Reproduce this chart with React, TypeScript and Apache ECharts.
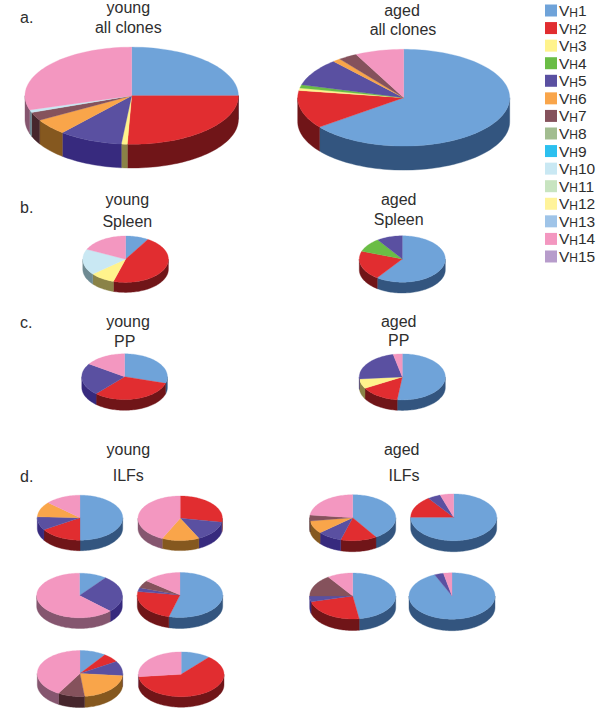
import React, { useEffect, useRef } from "react";
import * as echarts from "echarts";

const vhNames = ["VH1","VH2","VH3","VH4","VH5","VH6","VH7","VH8","VH9","VH10","VH11","VH12","VH13","VH14","VH15"];
const topColors = ["#6fa3d9","#e12d30","#fff38c","#6abd45","#5a50a1","#f9a54a","#85525c","#a2bd90","#2cc0ef","#c9e8f3","#c8e4c0","#fff39a","#9fc4e8","#f397c0","#b79ccb"];
const sideColors = ["#33557f","#701518","#8a8347","#3a7028","#372a7e","#85581f","#46262c","#5f7050","#1a6f8a","#6e8a92","#708a68","#8a8347","#557090","#85566f","#6a5580"];

// share of each VH family, in VH1..VH15 order
const youngAll =     [25, 25.6, 0.9, 0, 9.7, 5.3, 2.8, 0, 0, 0.9, 0, 0, 0, 29.7, 0];
const agedAll =      [64.6, 12.8, 0.8, 1.1, 9.2, 1.2, 2.9, 0, 0, 0, 0, 0, 0, 7.4, 0];
const youngSpleen =  [8.7, 45.9, 0, 0, 0, 0, 0, 0, 0, 0, 0, 9.3, 0, 18, 0];
const youngSpleen10 = 18.1;
const agedSpleen =   [59.9, 20.5, 0, 10, 9.6, 0, 0, 0, 0, 0, 0, 0, 0, 0, 0];
const youngPP =      [29.7, 31.9, 0, 0, 22.8, 0, 0, 0, 0, 0, 0, 0, 0, 15.6, 0];
const agedPP =       [51.9, 14.8, 6.9, 0, 23, 0, 0, 0, 0, 0, 0, 0, 0, 3.4, 0];
const youngIlf1 =    [50, 16, 0, 0, 9.6, 11, 0, 0, 0, 0, 0, 0, 0, 13.4, 0];
const youngIlf2 =    [0, 27.8, 0, 0, 14.9, 14.3, 0, 0, 0, 0, 0, 0, 0, 43, 0];
const youngIlf3 =    [10.4, 0, 0, 0, 26.9, 0, 0, 0, 0, 0, 0, 0, 0, 62.7, 0];
const youngIlf4 =    [54.2, 23.2, 0, 0, 2.9, 0, 5.5, 0, 0, 0, 0, 0, 0, 14.2, 0];
const youngIlf5 =    [9.9, 6.4, 0, 0, 10.3, 21.7, 10.1, 0, 0, 0, 0, 0, 0, 41.6, 0];
const youngIlf6 =    [11.2, 62.1, 0, 0, 0, 0, 0, 0, 0, 0, 0, 0, 0, 26.7, 0];
const agedIlf1 =     [40.9, 13.6, 0, 0, 9.2, 9, 4.1, 0, 0, 0, 0, 0, 0, 23.2, 0];
const agedIlf2 =     [75, 15, 0, 0, 4.9, 0, 0, 0, 0, 0, 0, 0, 0, 5.1, 0];
const agedIlf3 =     [47.6, 23.4, 0, 0, 4, 0, 15.4, 0, 0, 0, 0, 0, 0, 9.6, 0];
const agedIlf4 =     [93.4, 0, 0, 0, 3.4, 0, 0, 0, 0, 0, 0, 0, 0, 3.2, 0];

// the light slice of young spleen belongs to VH10; its yellow one to VH3
youngSpleen[9] = youngSpleen10;
youngSpleen[2] = youngSpleen[11];
youngSpleen[11] = 0;

const pieValues = [
  youngAll, agedAll, youngSpleen, agedSpleen, youngPP, agedPP,
  youngIlf1, youngIlf2, youngIlf3, youngIlf4, youngIlf5, youngIlf6,
  agedIlf1, agedIlf2, agedIlf3, agedIlf4,
];

// layout of each pie: cx, cy, rx, ry, depth
const pieLayouts = [
  [131.7, 95.7, 106.7, 48.6, 23.7],
  [403.7, 97.7, 106, 48.4, 24],
  [125.6, 259.2, 42.8, 23.2, 10],
  [402.3, 259, 43, 23.2, 10.8],
  [124.6, 376.7, 42.8, 22.9, 10.7],
  [402.3, 376.9, 43, 23, 10.5],
  [80, 517.7, 42.7, 22.5, 10.5],
  [180.2, 518.3, 42.2, 22.3, 10],
  [79.5, 595.5, 42.8, 22.3, 10.7],
  [180, 595, 42.7, 22.5, 11],
  [80, 673.5, 42.7, 23, 11],
  [181.2, 674.3, 42.8, 22.4, 10.5],
  [352.7, 517.7, 43, 23, 11],
  [453.7, 517.3, 43, 23.4, 11],
  [352.7, 596, 43, 23, 11.5],
  [452, 596, 43, 23.2, 11.5],
];

// [text, centre x, baseline y]
const pieTitles: [string, number, number][] = [
  ["young", 128.3, 13.3], ["all clones", 128.3, 33.3],
  ["aged", 402, 16], ["all clones", 403, 35],
  ["young", 127.3, 205], ["Spleen", 127.3, 226.7],
  ["aged", 398.7, 204.7], ["Spleen", 398.7, 225],
  ["young", 128, 327.3], ["PP", 124.7, 347.3],
  ["aged", 398.7, 326.7], ["PP", 398.7, 345.7],
  ["young", 128.3, 455], ["ILFs", 128.3, 481.3],
  ["aged", 401.7, 455], ["ILFs", 404, 481.3],
];
const panelLetters: [string, number][] = [["a.", 23.3], ["b.", 213.3], ["c.", 328.3], ["d.", 481.7]];

function arc(p: number[], a0: number, a1: number, dy: number) {
  const pts: number[][] = [];
  const n = Math.max(2, Math.ceil((a1 - a0) / 2));
  for (let i = 0; i <= n; i++) {
    const t = ((a0 + ((a1 - a0) * i) / n) * Math.PI) / 180;
    pts.push([p[0] + p[2] * Math.sin(t), p[1] - p[3] * Math.cos(t) + dy]);
  }
  return pts;
}

function sliceRows(vh: number) {
  const rows: number[][] = [];
  pieValues.forEach((vals, pi) => {
    const total = vals.reduce((s, v) => s + v, 0);
    let before = 0;
    for (let k = 0; k < vh; k++) before += vals[k];
    if (vals[vh] > 0) rows.push([pi, (before / total) * 360, ((before + vals[vh]) / total) * 360]);
  });
  return rows;
}

const fontFamily = '"Liberation Sans", Arial, sans-serif';

export default function App() {
  const ref = useRef<HTMLDivElement>(null);
  useEffect(() => {
    document.body.style.margin = "0";
    const chart = echarts.init(ref.current!, undefined, { renderer: "svg" });
    const textEl = (text: string, x: number, baseline: number, align: string) => ({
      type: "text",
      silent: true,
      style: {
        text, x, y: baseline - 5.5, fill: "#2e2e2e",
        font: `16px ${fontFamily}`, textAlign: align, textVerticalAlign: "middle",
      },
    });
    chart.setOption({
      animation: false,
      backgroundColor: "#ffffff",
      legend: {
        data: vhNames,
        orient: "vertical",
        left: 545,
        top: 2.5,
        icon: "rect",
        itemWidth: 12,
        itemHeight: 12,
        itemGap: 1.57,
        selectedMode: false,
        padding: 0,
        formatter: (name: string) => `{a|V}{b|H}{a|${name.slice(2)}}`,
        textStyle: {
          padding: [0, 0, 0, -3],
          rich: {
            a: { fontSize: 15.5, fontFamily, color: "#2e2e2e", lineHeight: 16 },
            b: { fontSize: 12, fontFamily, color: "#2e2e2e", lineHeight: 16, verticalAlign: "bottom" },
          },
        },
      },
      graphic: [
        ...pieTitles.map(([t, x, y]) => textEl(t, x, y, "center")),
        ...panelLetters.map(([t, y]) => textEl(t, 20, y, "left")),
      ],
      series: vhNames.map((name, vh) => ({
        type: "custom",
        name,
        coordinateSystem: "none",
        silent: true,
        clip: false,
        itemStyle: { color: topColors[vh] },
        data: sliceRows(vh),
        renderItem: (_: any, api: any) => {
          const p = pieLayouts[api.value(0)];
          const a0 = api.value(1);
          const a1 = api.value(2);
          const children: any[] = [];
          const w0 = Math.max(a0, 90);
          const w1 = Math.min(a1, 270);
          if (w1 > w0) {
            children.push({
              type: "polygon",
              shape: { points: [...arc(p, w0, w1, 0), ...arc(p, w0, w1, p[4]).reverse()] },
              style: { fill: sideColors[vh], stroke: sideColors[vh], lineWidth: 0.4 },
            });
          }
          children.push({
            type: "polygon",
            shape: { points: [[p[0], p[1]], ...arc(p, a0, a1, 0)] },
            style: { fill: topColors[vh], stroke: topColors[vh], lineWidth: 0.3 },
          });
          return { type: "group", children };
        },
      })),
    });
    return () => chart.dispose();
  }, []);
  return <div ref={ref} style={{ position: "absolute", left: 0, top: 0, width: 600, height: 709 }} />;
}
